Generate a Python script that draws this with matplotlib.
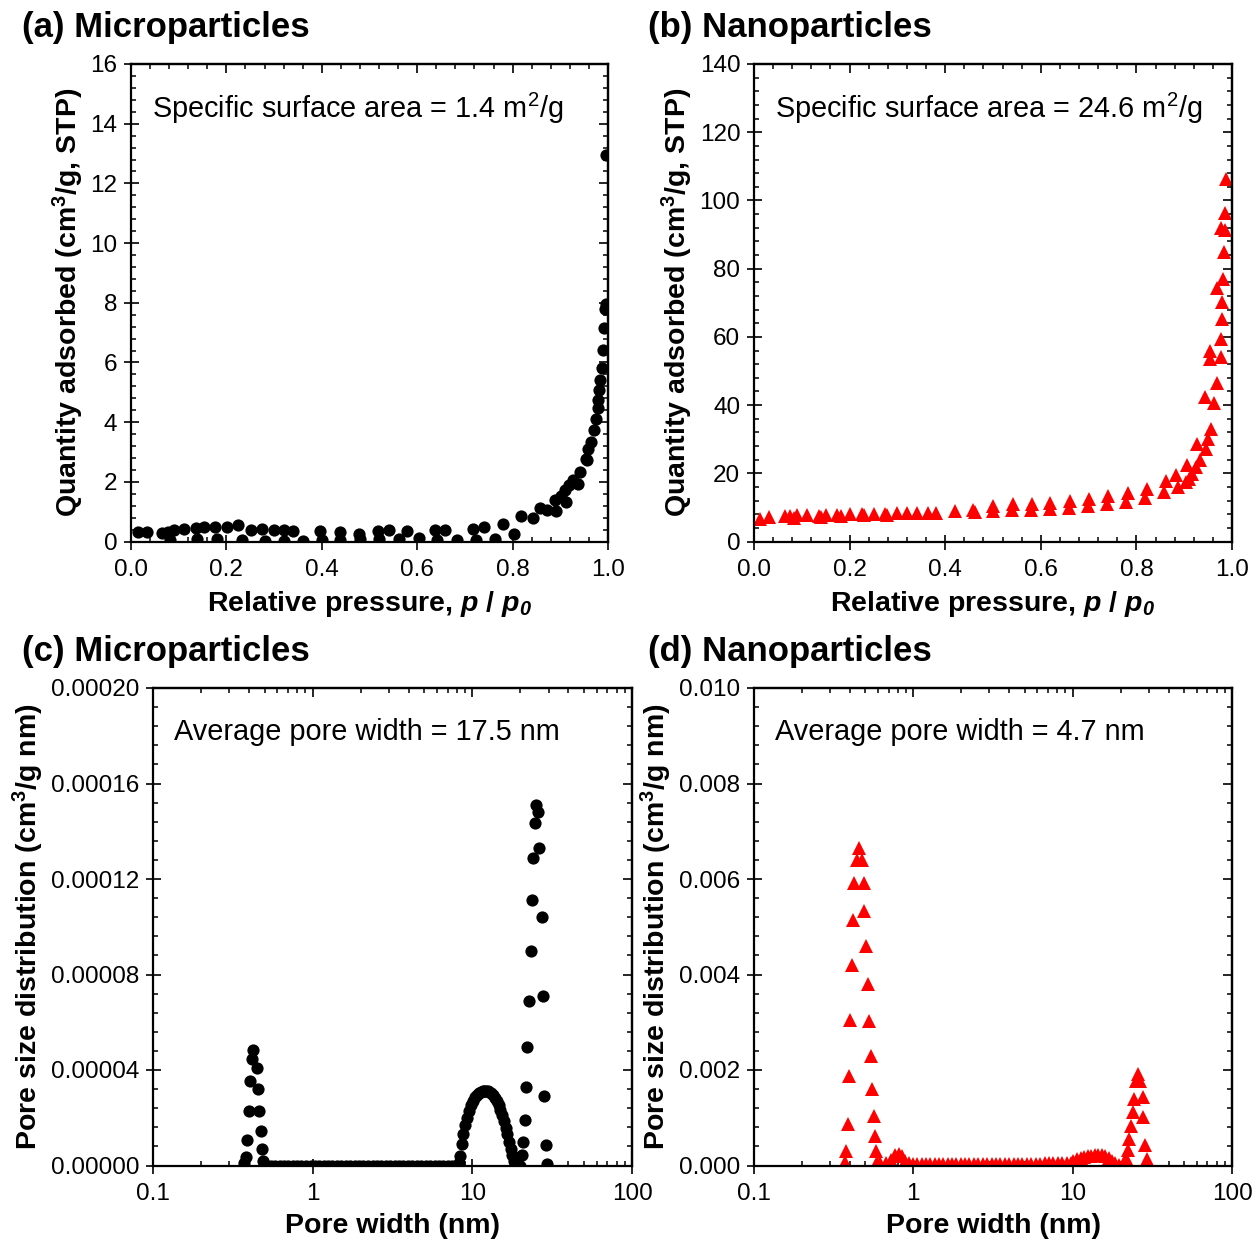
import numpy as np
import matplotlib
matplotlib.use('Agg')
import matplotlib.pyplot as plt
from matplotlib.ticker import MultipleLocator, FormatStrFormatter, LogLocator, NullFormatter, FuncFormatter

plt.rcParams['font.family'] = ['Liberation Sans', 'DejaVu Sans']
plt.rcParams['mathtext.fontset'] = 'custom'
plt.rcParams['mathtext.rm'] = 'Liberation Sans'
plt.rcParams['mathtext.it'] = 'Liberation Sans:italic'
plt.rcParams['mathtext.bf'] = 'Liberation Sans:bold'
plt.rcParams['mathtext.bfit'] = 'Liberation Sans:italic:bold'

# (a) microparticles isotherm, two branches
a_up_x = [0.014, 0.033, 0.064, 0.077, 0.09, 0.112, 0.136, 0.152, 0.176, 0.201, 0.225, 0.251, 0.275,
          0.30, 0.32, 0.34, 0.397, 0.438, 0.477, 0.518, 0.54, 0.579, 0.638, 0.659, 0.717, 0.739,
          0.78, 0.818, 0.858, 0.889, 0.91, 0.927, 0.941, 0.954, 0.964, 0.975, 0.98, 0.983, 0.987,
          0.992, 0.995, 0.996]
a_up_y = [0.31, 0.31, 0.28, 0.31, 0.37, 0.43, 0.45, 0.48, 0.48, 0.50, 0.54, 0.39, 0.43,
          0.39, 0.39, 0.35, 0.35, 0.31, 0.26, 0.35, 0.39, 0.35, 0.39, 0.39, 0.43, 0.48,
          0.57, 0.84, 1.12, 1.38, 1.71, 2.05, 2.33, 2.77, 3.33, 4.12, 4.73, 5.42, 5.83,
          7.14, 7.97, 12.95]
a_lo_x = [0.082, 0.139, 0.181, 0.232, 0.281, 0.32, 0.361, 0.40, 0.439, 0.48, 0.52, 0.561, 0.603,
          0.641, 0.683, 0.724, 0.764, 0.802, 0.843, 0.872, 0.891, 0.901, 0.912, 0.919, 0.938,
          0.957, 0.959, 0.971, 0.978, 0.981, 0.989, 0.993]
a_lo_y = [0.06, 0.09, 0.09, 0.06, 0.03, 0.03, 0.03, 0.06, 0.06, 0.09, 0.09, 0.09, 0.12,
          0.06, 0.06, 0.06, 0.09, 0.26, 0.78, 1.04, 1.01, 1.54, 1.34, 1.88, 1.94,
          2.72, 3.11, 3.72, 4.47, 5.09, 6.43, 7.8]

# (b) nanoparticles isotherm
b_x = [0.013, 0.032, 0.065, 0.075, 0.084, 0.091, 0.11, 0.136, 0.14, 0.15, 0.174, 0.181, 0.20,
       0.225, 0.23, 0.25, 0.274, 0.279, 0.30, 0.32, 0.34, 0.363, 0.381, 0.42, 0.459, 0.462,
       0.499, 0.50, 0.539, 0.541, 0.579, 0.581, 0.619, 0.62, 0.66, 0.661, 0.699, 0.701, 0.739,
       0.741, 0.778, 0.782, 0.819, 0.823, 0.858, 0.862, 0.883, 0.888, 0.903, 0.905, 0.91, 0.917,
       0.924, 0.934, 0.926, 0.945, 0.95, 0.957, 0.963, 0.943, 0.968, 0.976, 0.954, 0.955, 0.977,
       0.98, 0.98, 0.982, 0.968, 0.984, 0.977, 0.985, 0.986, 0.987]
b_y = [6.65, 7.1, 7.6, 7.6, 6.85, 7.8, 7.8, 7.5, 7.1, 7.8, 7.8, 7.4, 8.1,
       8.1, 7.7, 8.1, 8.1, 7.9, 8.3, 8.4, 8.4, 8.5, 8.5, 8.9, 9.1, 8.7,
       8.9, 10.5, 9.1, 10.9, 9.3, 11.1, 9.5, 11.4, 9.9, 12.0, 10.3, 12.5, 10.9,
       13.2, 11.6, 14.2, 12.7, 15.5, 14.5, 17.6, 19.4, 16.1, 17.4, 22.3, 18.4, 19.7,
       21.8, 24.0, 28.7, 27.2, 30.1, 33.1, 40.6, 42.4, 46.5, 54.1, 53.6, 55.9, 59.5,
       65.1, 70.3, 77.1, 74.4, 84.9, 91.8, 91.3, 96.2, 106.3]

# (c) microparticles pore size distribution (y in cm3/g nm)
c_x = [0.371, 0.38, 0.39, 0.399, 0.405, 0.415, 0.425, 0.446, 0.456, 0.463, 0.474, 0.483, 0.49,
       0.52, 0.55, 0.58, 0.62, 0.66, 0.70, 0.75, 0.80, 0.85, 0.91, 0.97, 1.03, 1.10, 1.17,
       1.25, 1.33, 1.42, 1.51, 1.61, 1.72, 1.83, 1.95, 2.08, 2.22, 2.37, 2.52, 2.69, 2.87,
       3.06, 3.26, 3.47, 3.70, 3.95, 4.21, 4.49, 4.78, 5.10, 5.44, 5.80, 6.18, 6.59, 7.03,
       7.49, 7.99,
       8.2, 8.4, 8.6, 8.8, 9.0, 9.2, 9.5, 9.8, 10.1, 10.4, 10.7, 11.0, 11.3, 11.6, 11.9,
       12.2, 12.5, 12.8, 13.1, 13.4, 13.8, 14.2, 14.6, 15.0, 15.4, 15.8, 16.2, 16.6, 17.0,
       17.4, 17.8, 18.2, 18.6, 19.2, 19.8,
       20.4, 20.8, 21.3, 21.7, 22.1, 22.7, 23.2, 23.5, 24.0, 24.7, 25.0, 25.9, 26.2, 27.2,
       27.6, 28.2, 28.9, 29.2]
c_y = [0.1e-5, 0.35e-5, 1.08e-5, 2.28e-5, 3.56e-5, 4.47e-5, 4.82e-5, 4.1e-5, 3.22e-5,
       2.28e-5, 1.43e-5, 0.7e-5, 0.2e-5,
       0, 0, 0, 0, 0, 0, 0, 0, 0, 0, 0, 0, 0, 0,
       0, 0, 0, 0, 0, 0, 0, 0, 0, 0, 0, 0, 0, 0,
       0, 0, 0, 0, 0, 0, 0, 0, 0, 0, 0, 0, 0, 0,
       0, 0,
       0.1e-5, 0.4e-5, 0.9e-5, 1.3e-5, 1.7e-5, 2.0e-5, 2.3e-5, 2.55e-5, 2.72e-5, 2.85e-5,
       2.95e-5, 3.03e-5, 3.08e-5, 3.11e-5, 3.13e-5, 3.13e-5, 3.12e-5, 3.08e-5, 3.02e-5,
       2.94e-5, 2.84e-5, 2.70e-5, 2.53e-5, 2.33e-5, 2.10e-5, 1.85e-5, 1.58e-5, 1.30e-5,
       1.00e-5, 0.70e-5, 0.42e-5, 0.18e-5, 0.04e-5, 0, 0,
       0.42e-5, 0.98e-5, 1.89e-5, 3.3e-5, 4.96e-5, 6.9e-5, 9.0e-5, 11.1e-5, 12.9e-5,
       14.35e-5, 15.1e-5, 14.8e-5, 13.3e-5, 10.4e-5, 7.1e-5, 2.93e-5, 0.84e-5, 0.07e-5]

# (d) nanoparticles pore size distribution
d_x = [0.372, 0.377, 0.388, 0.394, 0.403, 0.41, 0.42, 0.427, 0.442, 0.456, 0.474, 0.487,
       0.492, 0.505, 0.517, 0.527, 0.541, 0.551, 0.564, 0.575, 0.58, 0.59,
       0.62, 0.67, 0.72, 0.77, 0.81, 0.85, 0.89, 0.94,
       1.0, 1.06, 1.13, 1.2, 1.28, 1.36, 1.45, 1.54, 1.64, 1.75, 1.86, 1.98, 2.11, 2.25,
       2.4, 2.56, 2.73, 2.91, 3.1, 3.3, 3.52, 3.75, 4.0, 4.26, 4.54, 4.84, 5.16, 5.5,
       5.86, 6.25, 6.66, 7.1, 7.57, 8.07, 8.6, 9.17, 9.7,
       10.1, 10.6, 11.2, 11.8, 12.4, 13.1, 13.8, 14.5, 15.2, 16.0, 16.8, 17.6, 18.5, 19.4,
       21.2, 21.6, 22.2, 22.7, 23.2, 23.8, 24.3, 25.1, 25.8, 26.3, 27.5, 27.8, 28.5, 29.2]
d_y = [0.07e-3, 0.30e-3, 0.86e-3, 1.87e-3, 3.05e-3, 4.19e-3, 5.15e-3, 5.92e-3, 6.39e-3,
       6.64e-3, 6.39e-3, 5.92e-3, 5.32e-3, 4.59e-3, 3.81e-3, 3.02e-3, 2.29e-3, 1.61e-3,
       1.03e-3, 0.61e-3, 0.30e-3, 0.07e-3,
       0.05e-3, 0.05e-3, 0.12e-3, 0.21e-3, 0.24e-3, 0.19e-3, 0.10e-3, 0.05e-3,
       0.04e-3, 0.04e-3, 0.04e-3, 0.04e-3, 0.04e-3, 0.04e-3, 0.04e-3, 0.04e-3, 0.04e-3,
       0.04e-3, 0.04e-3, 0.04e-3, 0.04e-3, 0.04e-3, 0.04e-3, 0.04e-3, 0.04e-3, 0.04e-3,
       0.04e-3, 0.04e-3, 0.04e-3, 0.04e-3, 0.04e-3, 0.04e-3, 0.04e-3, 0.04e-3, 0.04e-3,
       0.04e-3, 0.04e-3, 0.04e-3, 0.05e-3, 0.05e-3, 0.05e-3, 0.05e-3, 0.05e-3, 0.05e-3, 0.06e-3,
       0.10e-3, 0.13e-3, 0.16e-3, 0.18e-3, 0.19e-3, 0.20e-3, 0.21e-3, 0.22e-3, 0.21e-3,
       0.19e-3, 0.15e-3, 0.10e-3, 0.05e-3, 0.02e-3,
       0.05e-3, 0.16e-3, 0.33e-3, 0.56e-3, 0.82e-3, 1.12e-3, 1.40e-3, 1.78e-3, 1.92e-3,
       1.78e-3, 1.43e-3, 1.01e-3, 0.42e-3, 0.14e-3]

titles = ['(a) Microparticles', '(b) Nanoparticles', '(c) Microparticles', '(d) Nanoparticles']
notes = [r'Specific surface area = 1.4 m$^{2}$/g', r'Specific surface area = 24.6 m$^{2}$/g',
         'Average pore width = 17.5 nm', 'Average pore width = 4.7 nm']

W, H = 1256, 1243
fig = plt.figure(figsize=(W / 100, H / 100), dpi=100)

ax_a = fig.add_axes([131 / W, 1 - 541.5 / H, 477 / W, 477.5 / H])
ax_b = fig.add_axes([754 / W, 1 - 541.5 / H, 478 / W, 477.5 / H])
ax_c = fig.add_axes([153 / W, 1 - 1165.5 / H, 479 / W, 477.5 / H])
ax_d = fig.add_axes([754 / W, 1 - 1165.5 / H, 478 / W, 477.5 / H])


def style(ax, xmaj, xmin, ymaj, ymin, logx=False):
    for s in ax.spines.values():
        s.set_linewidth(1.6)
    if logx:
        ax.set_xscale('log')
        ax.xaxis.set_major_locator(LogLocator(base=10))
        ax.xaxis.set_minor_locator(LogLocator(base=10, subs=[2, 3, 4, 5, 6, 7, 8, 9]))
        ax.xaxis.set_major_formatter(FuncFormatter(lambda v, p: '%g' % v))
        ax.xaxis.set_minor_formatter(NullFormatter())
    else:
        ax.xaxis.set_major_locator(MultipleLocator(xmaj))
        ax.xaxis.set_minor_locator(MultipleLocator(xmin))
    ax.yaxis.set_major_locator(MultipleLocator(ymaj))
    ax.yaxis.set_minor_locator(MultipleLocator(ymin))
    ax.tick_params(which='major', direction='inout', length=10.8, width=1.2, labelsize=17.5)
    ax.tick_params(axis='x', which='major', pad=7.5)
    ax.tick_params(axis='y', which='major', pad=4.5)
    ax.tick_params(which='minor', direction='in', length=3.4, width=1.1)
    top = ax.secondary_xaxis('top')
    right = ax.secondary_yaxis('right')
    if logx:
        top.xaxis.set_major_locator(LogLocator(base=10))
        top.xaxis.set_minor_locator(LogLocator(base=10, subs=[2, 3, 4, 5, 6, 7, 8, 9]))
    else:
        top.xaxis.set_major_locator(MultipleLocator(xmaj))
        top.xaxis.set_minor_locator(MultipleLocator(xmin))
    right.yaxis.set_major_locator(MultipleLocator(ymaj))
    right.yaxis.set_minor_locator(MultipleLocator(ymin))
    for sec in (top, right):
        sec.tick_params(which='major', direction='in', length=6.5, width=1.2)
        sec.tick_params(which='minor', direction='in', length=3.4, width=1.1)
        sec.tick_params(labeltop=False, labelright=False, labelbottom=False, labelleft=False)
        for s in sec.spines.values():
            s.set_linewidth(1.6)


# (a)
ax_a.plot(a_up_x, a_up_y, 'o', color='black', ms=8.8, mew=0)
ax_a.plot(a_lo_x, a_lo_y, 'o', color='black', ms=8.8, mew=0)
ax_a.set_xlim(0, 1)
ax_a.set_ylim(0, 16)
style(ax_a, 0.2, 0.04, 2, 0.4)
ax_a.xaxis.set_major_formatter(FormatStrFormatter('%.1f'))

# (b)
ax_b.plot(b_x, b_y, '^', color='#ff0000', ms=10, mew=0)
ax_b.set_xlim(0, 1)
ax_b.set_ylim(0, 140)
style(ax_b, 0.2, 0.04, 20, 4)
ax_b.xaxis.set_major_formatter(FormatStrFormatter('%.1f'))

# (c)
ax_c.plot(c_x, c_y, 'o', color='black', ms=8.8, mew=0)
ax_c.set_xlim(0.1, 100)
ax_c.set_ylim(0, 0.0002)
style(ax_c, None, None, 0.00004, 0.000008, logx=True)
ax_c.yaxis.set_major_formatter(FormatStrFormatter('%.5f'))

# (d)
ax_d.plot(d_x, d_y, '^', color='#ff0000', ms=10, mew=0)
ax_d.set_xlim(0.1, 100)
ax_d.set_ylim(0, 0.010)
style(ax_d, None, None, 0.002, 0.0004, logx=True)
ax_d.yaxis.set_major_formatter(FormatStrFormatter('%.3f'))

xlab_iso = r'Relative pressure, $\mathbfit{p}$ / $\mathbfit{p}_{\mathbfit{0}}$'
ylab_iso = r'Quantity adsorbed (cm$^{\mathbf{3}}$/g, STP)'
ylab_psd = r'Pore size distribution (cm$^{\mathbf{3}}$/g nm)'

for ax, xl, yl, ylx in [(ax_a, xlab_iso, ylab_iso, -0.095), (ax_b, xlab_iso, ylab_iso, -0.124),
                        (ax_c, 'Pore width (nm)', ylab_psd, -0.223),
                        (ax_d, 'Pore width (nm)', ylab_psd, -0.167)]:
    ax.set_xlabel(xl, fontsize=20.5, fontweight='bold')
    ax.set_ylabel(yl, fontsize=20.5, fontweight='bold')
    ax.xaxis.set_label_coords(0.5, -0.100)
    ax.yaxis.set_label_coords(ylx, 0.5)

for ax, note in zip([ax_a, ax_b, ax_c, ax_d], notes):
    ax.text(0.044, 0.908, note, transform=ax.transAxes, fontsize=20.8, ha='left', va='center')

for (x, y), t in zip([(22, 27), (648, 27), (22, 651), (648, 651)], titles):
    fig.text(x / W, 1 - y / H, t, fontsize=25, fontweight='bold', ha='left', va='center')

fig.savefig('out.png', dpi=100)
